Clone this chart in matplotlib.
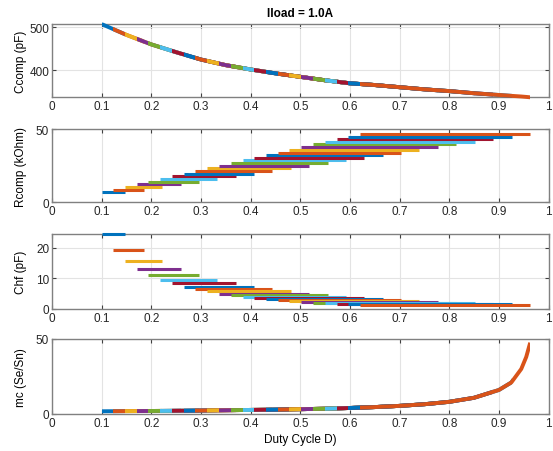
import numpy as np
import matplotlib
matplotlib.use('Agg')
import matplotlib.pyplot as plt
from matplotlib.patches import Rectangle

plt.rcParams['font.family'] = ['Liberation Sans', 'DejaVu Sans']
plt.rcParams['font.size'] = 8.5

# one series per output setting, D range
d_start = [0.100, 0.123, 0.147, 0.171, 0.194, 0.218, 0.242, 0.265, 0.289, 0.313,
           0.336, 0.360, 0.384, 0.407, 0.431, 0.455, 0.478, 0.502, 0.526, 0.549,
           0.573, 0.597, 0.620]
d_end = [0.148, 0.185, 0.222, 0.259, 0.296, 0.333, 0.370, 0.407, 0.444, 0.481,
         0.518, 0.555, 0.592, 0.629, 0.666, 0.703, 0.740, 0.777, 0.814, 0.851,
         0.888, 0.926, 0.963]
rcomp = [6.8, 8.6, 10.4, 12.3, 14.1, 15.9, 17.7, 19.5, 21.3, 23.2, 25.0, 26.8,
         28.6, 30.4, 32.2, 34.0, 35.8, 37.7, 39.5, 41.3, 43.1, 44.9, 46.7]
chf = [24.4, 19.2, 15.6, 13.0, 11.0, 9.5, 8.3, 7.2, 6.4, 5.7, 5.0, 4.4,
       3.9, 3.5, 3.1, 2.8, 2.55, 2.3, 2.1, 1.9, 1.75, 1.55, 1.3]

# shared curves (Ccomp and mc depend on D only)
d_knots = [0.10, 0.15, 0.20, 0.25, 0.30, 0.35, 0.40, 0.45, 0.50, 0.55, 0.60,
           0.65, 0.70, 0.75, 0.80, 0.85, 0.90, 0.925, 0.945, 0.955, 0.963]
ccomp_knots = [507, 482, 460, 442, 425, 412, 402, 393, 385, 377, 370,
               366, 361, 356, 352, 347, 343, 341, 339.5, 338.5, 337.6]
mc_knots = [1.8, 1.9, 2.0, 2.15, 2.3, 2.5, 2.7, 2.9, 3.2, 3.5, 4.0,
            4.6, 5.4, 6.5, 8.1, 10.8, 16.0, 21.0, 30.0, 38.0, 47.5]

colors = ['#0072BD', '#D95319', '#EDB120', '#7E2F8E', '#77AC30', '#4DBEEE', '#A2142F']
xticks = [0, 0.1, 0.2, 0.3, 0.4, 0.5, 0.6, 0.7, 0.8, 0.9, 1]
xticklabels = ['0', '0.1', '0.2', '0.3', '0.4', '0.5', '0.6', '0.7', '0.8', '0.9', '1']

fig = plt.figure(figsize=(5.53, 4.52), dpi=100)
left, width = 0.094, 0.898
ax1 = fig.add_axes([left, 0.7825, width, 0.162])
ax2 = fig.add_axes([left, 0.5502, width, 0.162])
ax3 = fig.add_axes([left, 0.3142, width, 0.1666])
ax4 = fig.add_axes([left, 0.0819, width, 0.166])
axes = [ax1, ax2, ax3, ax4]


def style(ax):
    ax.set_xlim(0, 1)
    ax.set_xticks(xticks)
    ax.set_xticklabels(xticklabels)
    ax.grid(True, color='#e3e3e3', lw=0.8)
    ax.set_axisbelow(True)
    ax.tick_params(direction='in', top=True, right=True, length=3,
                   width=0.8, colors='#404040', labelcolor='#262626', pad=2)
    for s in ax.spines.values():
        s.set_color('#808080')
        s.set_linewidth(1.0)


def curve(ax, yk):
    # same curve for every series, only shown over that series' D range
    for k in range(len(d_start)):
        ln, = ax.plot(d_knots, yk, color=colors[k % 7], lw=2.8,
                      solid_capstyle='butt', zorder=3)
        rect = Rectangle((d_start[k], -1e4), d_end[k] - d_start[k], 2e4,
                         transform=ax.transData)
        ln.set_clip_path(rect)


curve(ax1, ccomp_knots)
ax1.set_ylim(min(ccomp_knots), max(ccomp_knots))
ax1.set_yticks([400, 500])
ax1.set_ylabel('Ccomp (pF)')
ax1.set_title('Iload = 1.0A', fontweight='bold', fontsize=8.5, pad=6)

for k in range(len(d_start)):
    ax2.hlines(rcomp[k], d_start[k], d_end[k], color=colors[k % 7], lw=2.2,
               capstyle='butt', zorder=3)
    ax3.hlines(chf[k], d_start[k], d_end[k], color=colors[k % 7], lw=2.2,
               capstyle='butt', zorder=3, clip_on=False)
ax2.set_ylim(0, 50)
ax2.set_yticks([0, 50])
ax2.set_ylabel('Rcomp (kOhm)')
ax3.set_ylim(0, 24.5)
ax3.set_yticks([0, 10, 20])
ax3.set_ylabel('Chf (pF)')

curve(ax4, mc_knots)
ax4.set_ylim(0, 50)
ax4.set_yticks([0, 50])
ax4.set_ylabel('mc (Se/Sn)')
ax4.set_xlabel('Duty Cycle D)', labelpad=3)

for ax in axes:
    style(ax)
    ax.yaxis.set_label_coords(-0.05, 0.5)

fig.savefig('out.png', dpi=100)
